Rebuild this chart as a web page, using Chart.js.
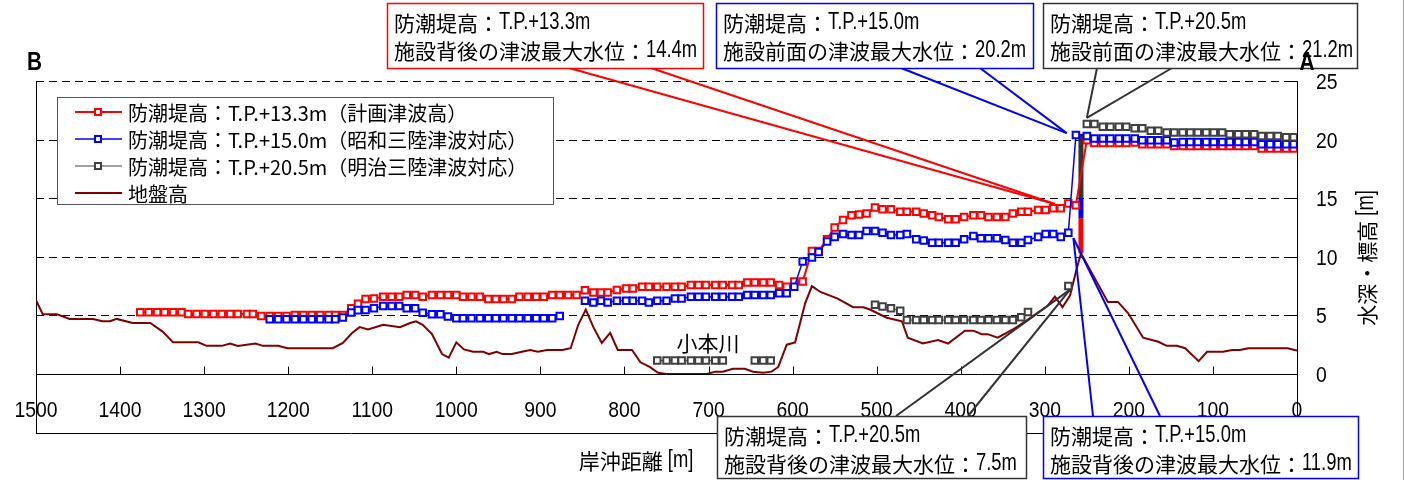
<!DOCTYPE html>
<html lang="ja">
<head>
<meta charset="utf-8">
<title>防潮堤高と津波最大水位</title>
<script src="https://cdn.jsdelivr.net/npm/chart.js@4.4.1/dist/chart.umd.min.js"></script>
<style>
  html, body { margin: 0; padding: 0; background: #fff; }
  #wrap { width: 1405px; height: 480px; }
</style>
</head>
<body>
<div id="wrap"><canvas id="chart" width="1405" height="480"></canvas></div>
<script>
// 岸沖距離 [m] (marker positions, land side of the wall)
const distBack = [
  1376, 1366, 1356, 1347, 1337, 1327, 1319, 1309, 1299, 1289,
  1279, 1269, 1260, 1249, 1242, 1232, 1222, 1212, 1202, 1192,
  1182, 1172, 1162, 1152, 1144, 1135, 1125, 1117, 1108, 1098,
  1087, 1077, 1068, 1059, 1049, 1040, 1029, 1019, 1010, 1000,
  992, 982, 972, 962, 953, 944, 934, 925, 915, 905,
  896, 886, 877, 867, 857, 847, 837, 828, 820, 809,
  798, 790, 779, 771, 761, 750, 740, 732, 721, 712,
  703, 692, 683, 672, 664, 654, 645, 635, 626, 616,
  607, 598, 588, 577, 569, 559, 550, 540, 530, 521,
  512, 502, 493, 483, 472, 464, 453, 444, 434, 426,
  415, 406, 396, 385, 376, 367, 357, 347, 338, 328,
  320, 308, 299, 290, 281, 272, 263
];
// sea side of the wall
const distFront = [250, 241, 231, 222, 212, 203, 193, 184, 174, 165, 155, 146, 136, 127,
  118, 108, 99, 89, 80, 70, 61, 51, 42, 32, 23, 13, 4];

// 防潮堤高 T.P.+13.3m
const redBack = [
  5.26, 5.26, 5.26, 5.26, 5.26, 5.26, 5.12, 5.12, 5.12, 5.12,
  5.12, 5.12, 5.12, 5.12, 5.12, 4.95, 4.95, 4.95, 4.95, 5.03,
  5.03, 5.03, 5.03, 5.03, 5.03, 5.03, 5.6, 6.0, 6.4, 6.45,
  6.6, 6.6, 6.6, 6.75, 6.75, 6.6, 6.75, 6.75, 6.75, 6.75,
  6.6, 6.6, 6.6, 6.4, 6.4, 6.4, 6.4, 6.6, 6.6, 6.6,
  6.6, 6.75, 6.75, 6.75, 6.75, 7.15, 6.95, 6.95, 6.95, 7.17,
  7.3, 7.3, 7.45, 7.45, 7.45, 7.45, 7.45, 7.45, 7.6, 7.6,
  7.6, 7.6, 7.6, 7.6, 7.6, 7.8, 7.8, 7.8, 7.8, 7.6,
  7.45, 7.9, 7.9, 10.5, 10.5, 11.5, 12.5, 13.15, 13.55, 13.6,
  13.7, 14.2, 14.05, 14.05, 13.85, 13.85, 13.85, 13.7, 13.55, 13.4,
  13.2, 13.2, 13.4, 13.55, 13.55, 13.4, 13.4, 13.4, 13.7, 13.85,
  13.85, 14.0, 14.0, 14.15, 14.15, 14.55, 14.4
];
const redFront = [19.95, 19.7, 19.7, 19.7, 19.7, 19.7, 19.75, 19.6, 19.6, 19.6, 19.6,
  19.45, 19.45, 19.45, 19.45, 19.45, 19.45, 19.45, 19.45, 19.45, 19.45, 19.45,
  19.25, 19.25, 19.25, 19.25, 19.25];

// 防潮堤高 T.P.+15.0m
const blueBack = [
  null, null, null, null, null, null, null, null, null, null,
  null, null, null, null, null, null, 4.67, 4.67, 4.67, 4.67,
  4.67, 4.67, 4.67, 4.67, 4.67, 4.82, 5.25, 5.45, 5.46, 5.6,
  5.8, 5.8, 5.8, 5.6, 5.6, 5.23, 5.1, 5.1, 4.9, 4.75,
  4.75, 4.75, 4.75, 4.75, 4.75, 4.75, 4.75, 4.75, 4.75, 4.75,
  4.75, 4.75, 4.95, null, null, 6.25, 6.1, 6.25, 6.1, 6.25,
  6.25, 6.25, 6.25, 6.1, 6.25, 6.25, 6.45, 6.45, 6.6, 6.6,
  6.6, 6.6, 6.6, 6.6, 6.6, 6.75, 6.75, 6.75, 6.75, 6.88,
  6.88, 7.45, 9.6, 9.95, 10.4, 11.3, 11.7, 11.95, 11.85, 11.85,
  12.2, 12.2, 12.05, 11.85, 11.85, 11.95, 11.5, 11.4, 11.2, 11.2,
  11.2, 11.2, 11.5, 11.78, 11.58, 11.58, 11.58, 11.43, 11.2, 11.2,
  11.43, 11.7, 11.95, 11.95, 11.7, 12.05, 20.4
];
const blueFront = [20.3, 20.1, 20.1, 20.1, 20.1, 20.1, 20.1, 19.95, 19.95, 19.95, 19.95,
  19.75, 19.8, 19.8, 19.8, 19.8, 19.8, 19.8, 19.8, 19.8, 19.8, 19.8,
  19.6, 19.6, 19.6, 19.6, 19.6];

// 防潮堤高 T.P.+20.5m
const grayBack = [
  null, null, null, null, null, null, null, null, null, null,
  null, null, null, null, null, null, null, null, null, null,
  null, null, null, null, null, null, null, null, null, null,
  null, null, null, null, null, null, null, null, null, null,
  null, null, null, null, null, null, null, null, null, null,
  null, null, null, null, null, null, null, null, null, null,
  null, null, null, null, 1.15, 1.15, 1.15, 1.15, 1.15, 1.15,
  1.15, 1.15, 1.15, null, null, null, 1.15, 1.15, 1.15, null,
  null, null, null, null, null, null, null, null, null, null,
  null, 5.9, 5.75, 5.6, 5.4, 4.6, 4.6, 4.6, 4.6, 4.6,
  4.6, 4.6, 4.6, 4.6, 4.6, 4.6, 4.6, 4.6, 4.6, 4.84,
  5.3, null, null, null, null, 7.5, null
];
const grayFront = [21.33, 21.33, 21.1, 21.1, 21.1, 21.1, 20.96, 20.96, 20.76, 20.76,
  20.6, 20.6, 20.6, 20.6, 20.6, 20.6, 20.6, 20.6, 20.45, 20.45, 20.45, 20.45,
  20.3, 20.3, 20.3, 20.2, 20.2];

// 地盤高
const groundX = [1500, 1492, 1475, 1460, 1432, 1421, 1412, 1404, 1385, 1364, 1349, 1337, 1307,
  1297, 1279, 1269, 1260, 1239, 1230, 1212, 1201, 1147, 1135, 1124, 1115, 1105, 1087, 1067,
  1055, 1048, 1040, 1029, 1017, 1009, 1000, 991, 980, 968, 961, 952, 945, 934, 922, 912, 903,
  892, 874, 864, 855, 846, 837, 827, 817, 808, 791, 781, 770, 760, 750, 702, 692, 683, 671,
  657, 647, 635, 625, 617, 607, 597, 585, 577, 567, 547, 528, 516, 508, 488, 470, 463, 445,
  427, 415, 395, 385, 375, 368, 356, 338, 321, 309, 297, 288, 279, 270, 262, 257, 225, 213,
  201, 183, 165, 155, 143, 133, 117, 107, 88, 77, 68, 58, 11, 0];
const groundY = [6.3, 5.1, 5.1, 4.7, 4.7, 4.5, 4.5, 4.7, 4.35, 4.35, 3.6, 2.7, 2.7,
  2.4, 2.4, 2.6, 2.4, 2.6, 2.4, 2.4, 2.2, 2.2, 2.65, 3.5, 4.0, 3.8, 4.2, 4.0,
  4.35, 4.5, 4.2, 3.4, 1.7, 1.4, 2.7, 2.1, 1.9, 1.9, 1.7, 1.9, 1.7, 1.7, 1.9, 2.05, 1.9,
  2.05, 2.05, 2.2, 4.2, 5.5, 4.0, 2.65, 3.5, 2.05, 2.05, 1.0, 0.6, 0.1, 0, 0, 0.2, 0.2, 0.45,
  0.45, 0.2, 0.1, 0.2, 0.6, 2.5, 2.7, 6.05, 7.5, 7.0, 6.45, 5.7, 5.7, 5.5, 4.8, 4.5, 3.1, 2.6,
  2.9, 2.6, 3.7, 3.7, 3.4, 3.4, 3.1, 3.8, 4.6, 5.2, 5.8, 6.6, 5.7, 6.7, 9.0, 10.3, 6.15, 6.15,
  5.2, 3.1, 2.75, 2.4, 2.4, 2.2, 1.1, 1.9, 1.9, 2.05, 2.05, 2.2, 2.2, 2.0];

// 防潮堤 (wall position and crest levels)
const wallX = 257;
const wallLevels = [10.3, 13.3, 15.0, 20.5];

const xTicks = [1500, 1400, 1300, 1200, 1100, 1000, 900, 800, 700, 600, 500, 400, 300, 200, 100, 0];
const yTicks = [0, 5, 10, 15, 20, 25];

const seriesNames = [
  '防潮堤高：T.P.+13.3m（計画津波高）',
  '防潮堤高：T.P.+15.0m（昭和三陸津波対応）',
  '防潮堤高：T.P.+20.5m（明治三陸津波対応）',
  '地盤高'
];

const RED = '#ff0000', BLUE = '#0000ff', GRAY = '#404040', GROUND = '#800000';
const cjk = "'Noto Sans CJK JP', sans-serif";

const dist = distBack.concat(distFront);
const toPts = vals => dist.map((d, i) => ({ x: d, y: vals[i] }));

const callouts = [
  { box: [387, 3, 316, 65], color: RED, lines: ['防潮堤高：T.P.+13.3m', '施設背後の津波最大水位：14.4m'],
    from: [[569, 68], [651, 68]], to: [288, 14.5] },
  { box: [716, 3, 317, 65], color: BLUE, lines: ['防潮堤高：T.P.+15.0m', '施設前面の津波最大水位：20.2m'],
    from: [[901, 68], [980, 68]], to: [274, 20.55] },
  { box: [1043, 3, 314, 65], color: '#333', lines: ['防潮堤高：T.P.+20.5m', '施設前面の津波最大水位：21.2m'],
    from: [[1097, 68], [1172, 68]], to: [250, 21.85] },
  { box: [717, 416, 309, 62], color: '#333', lines: ['防潮堤高：T.P.+20.5m', '施設背後の津波最大水位：7.5m'],
    from: [[896, 416], [968, 416]], to: [270, 7.2] },
  { box: [1043, 416, 315, 62], color: BLUE, lines: ['防潮堤高：T.P.+15.0m', '施設背後の津波最大水位：11.9m'],
    from: [[1093, 416], [1160, 416]], to: [266, 11.6] }
];

function seg(ctx, x1, y1, x2, y2) {
  ctx.beginPath();
  ctx.moveTo(x1, y1);
  ctx.lineTo(x2, y2);
  ctx.stroke();
}

// CJK at normal width, Latin in a narrowed Liberation Sans (like the original's half-width glyphs)
function runs(text) {
  return text.match(/[\x20-\x7e]+|[^\x20-\x7e]+/g) || [];
}
function latinFont(size, bold) {
  return (bold ? 'bold ' : '') + Math.round(size * 1.1) + "px 'Liberation Sans', sans-serif";
}
function mixedWidth(ctx, text, size, sx, bold) {
  let w = 0;
  runs(text).forEach(r => {
    if (/^[\x20-\x7e]+$/.test(r)) {
      ctx.font = latinFont(size, bold);
      w += ctx.measureText(r).width * sx;
    } else {
      ctx.font = size + 'px ' + cjk;
      w += ctx.measureText(r).width;
    }
  });
  return w;
}
function drawMixed(ctx, text, x, y, size, opts = {}) {
  const sx = opts.sx || 0.8;
  let cx = x;
  if (opts.align === 'center') cx -= mixedWidth(ctx, text, size, sx, opts.bold) / 2;
  ctx.textAlign = 'left';
  runs(text).forEach(r => {
    if (/^[\x20-\x7e]+$/.test(r)) {
      ctx.font = latinFont(size, opts.bold);
      const w = ctx.measureText(r).width;
      ctx.save();
      ctx.translate(cx, y);
      ctx.scale(sx, 1);
      ctx.fillText(r, 0, 0);
      ctx.restore();
      cx += w * sx;
    } else {
      ctx.font = size + 'px ' + cjk;
      ctx.fillText(r, cx, y);
      cx += ctx.measureText(r).width;
    }
  });
}

const decor = {
  id: 'decor',
  beforeDatasetsDraw(chart) {
    const { ctx, chartArea: a, scales: { x, y } } = chart;
    ctx.save();
    ctx.strokeStyle = '#000';
    ctx.lineWidth = 1;
    ctx.setLineDash([8, 5]);
    yTicks.slice(1).forEach(v => {
      const py = Math.round(y.getPixelForValue(v)) + 0.5;
      seg(ctx, a.left, py, a.right, py);
    });
    ctx.setLineDash([]);
    // frame and axis line
    const b = Math.round(a.bottom) + 0.5;
    seg(ctx, a.left, b, a.right, b);
    seg(ctx, a.left + 0.5, a.top, a.left + 0.5, 433.5);
    seg(ctx, a.right + 0.5, a.top, a.right + 0.5, 433.5);
    seg(ctx, a.left, 433.5, a.right + 1, 433.5);
    xTicks.forEach(v => {
      const px = Math.round(x.getPixelForValue(v)) + 0.5;
      seg(ctx, px, b, px, b - 8);
    });
    yTicks.forEach(v => {
      const py = Math.round(y.getPixelForValue(v)) + 0.5;
      seg(ctx, a.right, py, a.right - 7, py);
    });

    // tick labels
    ctx.fillStyle = '#000';
    ctx.textBaseline = 'middle';
    xTicks.forEach(v => {
      drawMixed(ctx, String(v), x.getPixelForValue(v), 411, 20, { sx: 0.88, align: 'center' });
    });
    yTicks.forEach(v => {
      drawMixed(ctx, String(v), a.right + 19, y.getPixelForValue(v) + 2, 20, { sx: 0.88 });
    });
    ctx.restore();
  },
  afterDatasetsDraw(chart) {
    const { ctx, scales: { x, y } } = chart;
    ctx.save();

    // legend
    ctx.fillStyle = '#fff';
    ctx.fillRect(57, 97, 496, 107);
    ctx.strokeStyle = '#555';
    ctx.lineWidth = 1;
    ctx.strokeRect(57.5, 97.5, 496, 107);
    const ds = chart.data.datasets;
    [112, 139, 166, 193].forEach((ly, i) => {
      const d = ds[i];
      ctx.strokeStyle = d.borderColor;
      ctx.lineWidth = d.borderWidth;
      seg(ctx, 75, ly, 122, ly);
      if (d.pointRadius) {
        ctx.lineWidth = 2;
        ctx.fillStyle = '#fff';
        ctx.fillRect(95, ly - 3, 6, 6);
        ctx.strokeRect(95, ly - 3, 6, 6);
      }
      ctx.fillStyle = '#000';
      ctx.font = '20px ' + cjk;
      ctx.textBaseline = 'middle';
      ctx.textAlign = 'left';
      ctx.fillText(d.label, 128, ly + 1);
    });

    // river name
    ctx.font = '21px ' + cjk;
    ctx.textAlign = 'center';
    ctx.fillText('小本川', 708, 343);

    // call-outs
    callouts.forEach(c => {
      const tx = x.getPixelForValue(c.to[0]);
      const ty = y.getPixelForValue(c.to[1]);
      ctx.strokeStyle = c.color;
      ctx.lineWidth = 2;
      c.from.forEach(p => seg(ctx, p[0], p[1], tx, ty));
    });
    callouts.forEach(c => {
      const [bx, by, bw, bh] = c.box;
      ctx.fillStyle = '#fff';
      ctx.fillRect(bx, by, bw, bh);
      ctx.strokeStyle = c.color;
      ctx.lineWidth = 1.5;
      ctx.strokeRect(bx + 0.5, by + 0.5, bw, bh);
      ctx.fillStyle = '#000';
      ctx.textBaseline = 'middle';
      drawMixed(ctx, c.lines[0], bx + 7, by + 20, 21);
      drawMixed(ctx, c.lines[1], bx + 7, by + 48, 21);
    });

    // section ends
    ctx.textBaseline = 'alphabetic';
    drawMixed(ctx, 'B', 27, 70, 24, { bold: true, sx: 0.8 });
    drawMixed(ctx, 'A', 1307, 70, 24, { bold: true, sx: 0.8, align: 'center' });

    // axis titles
    ctx.textBaseline = 'middle';
    drawMixed(ctx, '岸沖距離 [m]', 636, 461, 21, { align: 'center' });
    ctx.save();
    ctx.translate(1367, 258);
    ctx.rotate(-Math.PI / 2);
    drawMixed(ctx, '水深・標高 [m]', 0, 0, 21, { align: 'center' });
    ctx.restore();

    ctx.strokeStyle = '#9a9aff';
    ctx.lineWidth = 1;
    seg(ctx, 1403.5, 0, 1403.5, 480);
    ctx.restore();
  }
};

const pointStyle = (color) => ({
  pointStyle: 'rect', pointRadius: 4.6, pointHoverRadius: 4.6,
  pointBorderWidth: 2, pointBorderColor: color, pointBackgroundColor: '#fff'
});

new Chart(document.getElementById('chart'), {
  type: 'line',
  data: {
    datasets: [
      { label: seriesNames[0], data: toPts(redBack.concat(redFront)), borderColor: RED,
        borderWidth: 2, order: 2, ...pointStyle(RED) },
      { label: seriesNames[1], data: toPts(blueBack.concat(blueFront)), borderColor: BLUE,
        borderWidth: 1.5, order: 1, ...pointStyle(BLUE) },
      { label: seriesNames[2], data: toPts(grayBack.concat(grayFront)), borderColor: GRAY,
        borderWidth: 1, order: 0, ...pointStyle(GRAY) },
      { label: seriesNames[3], data: groundX.map((d, i) => ({ x: d, y: groundY[i] })),
        borderColor: GROUND, borderWidth: 2, pointRadius: 0, order: 5 },
      { label: 'wall20.5', data: [{ x: wallX, y: wallLevels[2] }, { x: wallX, y: wallLevels[3] }],
        borderColor: '#333', borderWidth: 5, pointRadius: 0, order: 3, borderCapStyle: 'butt' },
      { label: 'wall15.0', data: [{ x: wallX, y: wallLevels[1] }, { x: wallX, y: wallLevels[2] }],
        borderColor: BLUE, borderWidth: 5, pointRadius: 0, order: 3, borderCapStyle: 'butt' },
      { label: 'wall13.3', data: [{ x: wallX, y: wallLevels[0] }, { x: wallX, y: wallLevels[1] }],
        borderColor: RED, borderWidth: 5, pointRadius: 0, order: 3, borderCapStyle: 'butt' }
    ]
  },
  options: {
    responsive: false,
    devicePixelRatio: 1,
    animation: false,
    spanGaps: false,
    elements: { line: { tension: 0 } },
    layout: { padding: { left: 36, top: 81, right: 0, bottom: 0 } },
    plugins: { legend: { display: false }, tooltip: { enabled: false } },
    scales: {
      x: {
        type: 'linear', reverse: true, min: 0, max: 1500,
        afterBuildTicks: s => { s.ticks = xTicks.map(v => ({ value: v })); },
        afterFit: s => { s.height = 106; },
        grid: { display: false, drawTicks: false },
        border: { display: false },
        ticks: { display: false }
      },
      y: {
        position: 'right', min: 0, max: 25,
        afterBuildTicks: s => { s.ticks = yTicks.map(v => ({ value: v })); },
        afterFit: s => { s.width = 108; },
        grid: { display: false, drawTicks: false },
        border: { display: false },
        ticks: { display: false }
      }
    }
  },
  plugins: [decor]
});
</script>
</body>
</html>
